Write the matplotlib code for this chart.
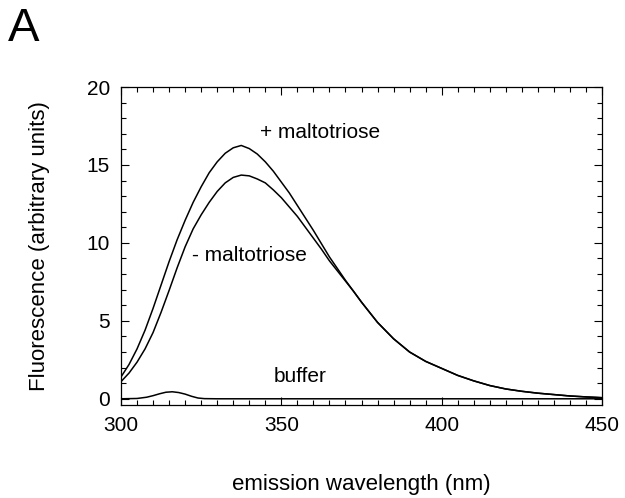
import matplotlib
matplotlib.use("Agg")
import matplotlib.pyplot as plt
from matplotlib.ticker import MultipleLocator

plt.rcParams['font.family'] = ['Liberation Sans', 'DejaVu Sans']

# emission wavelength (nm)
wavelength = [300, 302.5, 305, 307.5, 310, 312.5, 315, 317.5, 320, 322.5, 325,
              327.5, 330, 332.5, 335, 337.5, 340, 342.5, 345, 347.5, 350, 352.5,
              355, 357.5, 360, 362.5, 365, 367.5, 370, 372.5, 375, 380, 385,
              390, 395, 400, 405, 410, 415, 420, 425, 430, 435, 440, 445, 450]
# fluorescence with maltotriose
plus_maltotriose = [1.4, 2.2, 3.2, 4.4, 5.8, 7.3, 8.8, 10.2, 11.45, 12.6, 13.6,
                    14.5, 15.2, 15.75, 16.1, 16.25, 16.05, 15.7, 15.2, 14.6, 13.9,
                    13.2, 12.4, 11.6, 10.8, 9.95, 9.1, 8.35, 7.6, 6.9, 6.2, 4.9,
                    3.85, 3.0, 2.4, 1.95, 1.5, 1.15, 0.85, 0.63, 0.48, 0.36, 0.27,
                    0.18, 0.12, 0.07]
# fluorescence without maltotriose
minus_maltotriose = [1.1, 1.65, 2.35, 3.2, 4.25, 5.55, 6.95, 8.4, 9.75, 10.9, 11.8,
                     12.6, 13.3, 13.85, 14.2, 14.35, 14.3, 14.1, 13.85, 13.4, 12.9,
                     12.3, 11.7, 11.0, 10.3, 9.6, 8.85, 8.2, 7.55, 6.9, 6.2, 4.9,
                     3.85, 3.0, 2.4, 1.95, 1.5, 1.15, 0.85, 0.63, 0.48, 0.36, 0.27,
                     0.18, 0.12, 0.07]
# buffer alone
buffer_wavelength = [300, 305, 308, 310, 312, 314, 316, 318, 320, 322, 324, 326,
                     330, 350, 400, 450]
buffer_signal = [0.0, 0.02, 0.1, 0.2, 0.32, 0.42, 0.45, 0.4, 0.3, 0.16, 0.05,
                 0.01, 0.0, 0.0, 0.0, 0.0]

labels = ["+ maltotriose", "- maltotriose", "buffer"]
xticks = [300, 350, 400, 450]
yticks = [0, 5, 10, 15, 20]

fig = plt.figure(figsize=(6.25, 4.98), dpi=100)
ax = fig.add_axes([0.1936, 0.1867, 0.7696, 0.6386])

lw = 1.1
ax.plot(wavelength, plus_maltotriose, color='black', lw=lw)
ax.plot(wavelength, minus_maltotriose, color='black', lw=lw)
ax.plot(buffer_wavelength, buffer_signal, color='black', lw=lw)

fs = 15
ax.text(343.3, 17.1, labels[0], fontsize=fs, va='center', ha='left')
ax.text(322.0, 9.2, labels[1], fontsize=fs, va='center', ha='left')
ax.text(347.5, 1.4, labels[2], fontsize=fs, va='center', ha='left')

ax.set_xlim(300, 450)
ax.set_ylim(-0.4, 20)
ax.set_xticks(xticks)
ax.set_yticks(yticks)
ax.xaxis.set_minor_locator(MultipleLocator(5))
ax.yaxis.set_minor_locator(MultipleLocator(1))
ax.tick_params(which='both', direction='in', top=True, right=True, width=0.8,
               labelsize=fs)
ax.tick_params(axis='x', which='major', length=6, pad=8)
ax.tick_params(axis='y', which='major', length=6, pad=8)
ax.tick_params(which='minor', length=3.5)
for s in ax.spines.values():
    s.set_linewidth(0.9)

ax.set_xlabel("emission wavelength (nm)", fontsize=16, labelpad=28)
ax.set_ylabel("Fluorescence (arbitrary units)", fontsize=16, labelpad=26)

fig.text(0.013, 0.985, "A", fontsize=34, ha='left', va='top')

fig.savefig("out.png", dpi=100)
